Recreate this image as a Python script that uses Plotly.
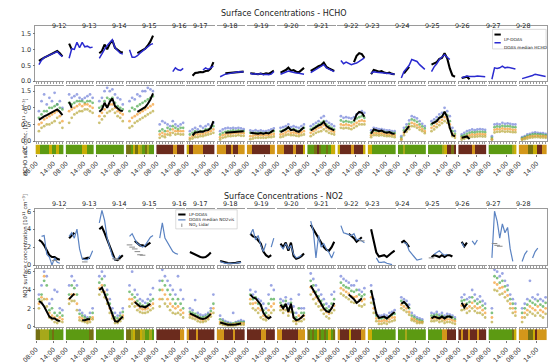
import plotly.graph_objects as go

N = None
W, H = 550, 364

DAYS = ["9-12", "9-13", "9-14", "9-15", "9-16", "9-17", "9-18", "9-19", "9-20",
        "9-21", "9-22", "9-23", "9-24", "9-25", "9-26", "9-27", "9-28"]
HOURS = [9.0, 9.9, 10.8, 11.7, 12.6, 13.5, 14.4, 15.3, 16.2, 17.1]
TICK_HOURS = [8, 14]
TICK_TEXT = ["08:00", "14:00"]

# ---------------- HCHO ----------------
HCHO_LP = [
    [0.64, 0.70, 0.74, 0.78, 0.82, 0.85, 0.90, 0.95, 0.88, 0.78],
    [1.18, 1.00, N, N, N, N, N, N, N, N],
    [0.88, 0.95, 1.15, 1.00, 1.18, 1.28, 1.05, 0.98, 0.92, 0.90],
    [N, N, N, 0.88, 0.92, 0.98, 1.02, 1.12, 1.25, 1.43],
    [N, N, N, N, N, N, N, N, N, N],
    [N, 0.17, 0.26, 0.27, 0.29, 0.28, 0.32, 0.33, 0.40, 0.60],
    [N, N, 0.25, 0.26, 0.27, 0.28, 0.28, 0.29, 0.30, 0.30],
    [0.25, 0.24, 0.25, 0.22, 0.24, 0.22, 0.25, 0.23, 0.28, 0.33],
    [0.27, 0.30, 0.35, 0.42, 0.33, 0.35, 0.30, 0.28, 0.35, 0.42],
    [0.32, 0.38, 0.42, 0.47, 0.50, 0.58, 0.45, 0.40, 0.36, 0.32],
    [N, N, N, N, N, 0.60, 0.80, 0.88, 0.85, 0.73],
    [0.22, 0.35, 0.33, 0.30, 0.32, 0.27, 0.25, 0.27, 0.23, 0.22],
    [N, 0.25, 0.35, 0.45, N, N, N, N, N, N],
    [0.52, 0.55, 0.60, 0.70, 0.73, 0.88, 0.72, 0.40, 0.18, 0.14],
    [0.10, 0.12, 0.14, 0.06, N, N, N, N, N, N],
    [N, N, N, N, N, N, N, N, N, N],
    [N, N, N, N, N, N, N, N, N, N],
]
HCHO_MED = [
    [0.52, 0.66, 0.74, 0.78, 0.80, 0.84, 0.90, 0.93, 0.84, 0.77],
    [0.72, 1.02, 1.00, 1.22, 1.05, 1.22, 1.08, 1.10, 1.05, 1.07],
    [0.72, 0.88, 1.00, 1.12, 1.20, 1.30, 1.05, 0.95, 0.88, 0.85],
    [0.99, 0.75, 0.75, 0.80, 0.88, 0.95, 1.00, 1.08, 1.15, 1.18],
    [N, N, N, N, N, 0.30, 0.42, 0.36, 0.34, 0.40],
    [N, N, N, N, N, 0.35, 0.42, 0.37, 0.43, 0.47],
    [0.14, 0.18, 0.22, 0.23, 0.25, 0.27, 0.28, 0.30, 0.29, 0.30],
    [0.25, 0.22, 0.23, 0.22, 0.24, 0.20, 0.22, 0.20, 0.22, 0.30],
    [0.22, 0.26, 0.30, 0.32, 0.30, 0.27, 0.26, 0.25, 0.23, 0.22],
    [0.27, 0.32, 0.37, 0.43, 0.47, 0.52, 0.42, 0.37, 0.34, 0.30],
    [0.65, 0.55, 0.60, 0.55, 0.52, 0.55, 0.57, 0.62, 0.68, 0.73],
    [0.25, 0.30, 0.28, 0.28, 0.27, 0.26, 0.25, 0.24, 0.24, 0.22],
    [0.10, 0.30, 0.40, 0.50, 0.68, 0.66, 0.62, 0.52, 0.45, 0.37],
    [0.30, 0.45, 0.55, 0.68, 0.76, 0.83, 0.75, 0.68, N, N],
    [0.11, 0.13, 0.16, 0.15, 0.14, 0.15, 0.16, 0.16, 0.15, 0.14],
    [0.06, 0.42, 0.40, 0.42, 0.47, 0.42, 0.44, 0.42, 0.40, 0.38],
    [0.08, 0.10, 0.14, 0.16, 0.18, 0.22, 0.20, 0.18, 0.16, 0.15],
]
HCHO_PTS_A = [
    [0.90, 1.20, 1.40, 1.10, 1.30, 1.20, 1.45, 1.10, 1.20, 1.00],
    [1.40, 1.30, 1.35, 1.40, 1.30, 1.25, 1.30, 1.35, 1.40, 1.30],
    [1.20, 1.30, 1.50, 1.60, 1.50, 1.55, 1.40, 1.30, 1.25, 1.10],
    [1.20, 1.30, 1.25, 1.40, 1.35, 1.50, 1.50, 1.60, 1.55, 1.50],
    [0.50, 0.60, 0.55, 0.50, 0.45, 0.60, 0.50, 0.45, 0.50, 0.55],
    [0.30, 0.35, 0.40, 0.35, 0.45, 0.40, 0.45, 0.50, 0.45, 0.55],
    [0.30, 0.35, 0.38, 0.40, 0.38, 0.40, 0.38, 0.40, 0.38, 0.36],
    [0.32, 0.30, 0.33, 0.30, 0.32, 0.30, 0.30, 0.32, 0.35, 0.38],
    [0.40, 0.42, 0.45, 0.50, 0.42, 0.45, 0.42, 0.40, 0.45, 0.50],
    [0.45, 0.50, 0.55, 0.60, 0.70, 0.75, 0.60, 0.55, 0.50, 0.45],
    [0.75, 0.70, 0.72, 0.70, 0.68, 0.72, 0.80, 0.85, 0.90, 0.85],
    [0.32, 0.40, 0.38, 0.36, 0.36, 0.34, 0.32, 0.32, 0.30, 0.30],
    [0.15, 0.40, 0.50, 0.62, 0.75, 0.72, 0.68, 0.60, 0.52, 0.45],
    [0.60, 0.65, 0.72, 0.80, 0.85, 1.00, 0.90, 0.75, 0.40, 0.30],
    [0.20, 0.25, 0.30, 0.32, 0.35, 0.33, 0.35, 0.36, 0.35, 0.34],
    [0.15, 0.50, 0.52, 0.50, 0.55, 0.52, 0.53, 0.52, 0.50, 0.50],
    [0.12, 0.15, 0.20, 0.22, 0.25, 0.26, 0.25, 0.24, 0.24, 0.22],
]
HCHO_PTS_B = [
    [0.70, 0.80, 0.90, 0.90, 1.00, 1.00, 1.05, 1.10, 1.00, 0.95],
    [1.15, 1.10, 1.15, 1.20, 1.20, 1.20, 1.15, 1.20, 1.20, 1.15],
    [1.00, 1.05, 1.20, 1.30, 1.25, 1.30, 1.15, 1.05, 1.00, 0.95],
    [0.90, 1.00, 0.95, 1.05, 1.10, 1.15, 1.20, 1.25, 1.30, 1.35],
    [0.30, 0.35, 0.30, 0.40, 0.35, 0.45, 0.40, 0.35, 0.40, 0.40],
    [0.20, 0.25, 0.30, 0.28, 0.30, 0.30, 0.35, 0.35, 0.38, 0.45],
    [0.20, 0.25, 0.28, 0.30, 0.30, 0.32, 0.30, 0.32, 0.30, 0.30],
    [0.25, 0.24, 0.25, 0.24, 0.25, 0.23, 0.24, 0.25, 0.28, 0.30],
    [0.30, 0.32, 0.36, 0.40, 0.34, 0.36, 0.32, 0.30, 0.35, 0.40],
    [0.35, 0.40, 0.45, 0.50, 0.55, 0.60, 0.50, 0.45, 0.40, 0.35],
    [0.62, 0.58, 0.60, 0.58, 0.56, 0.60, 0.68, 0.72, 0.75, 0.70],
    [0.25, 0.32, 0.30, 0.30, 0.30, 0.28, 0.26, 0.26, 0.25, 0.24],
    [0.10, 0.32, 0.42, 0.52, 0.65, 0.62, 0.58, 0.50, 0.44, 0.38],
    [0.50, 0.55, 0.62, 0.70, 0.75, 0.85, 0.78, 0.60, 0.30, 0.22],
    [0.15, 0.18, 0.22, 0.25, 0.27, 0.26, 0.28, 0.28, 0.28, 0.27],
    [0.10, 0.42, 0.44, 0.43, 0.46, 0.44, 0.45, 0.44, 0.42, 0.42],
    [0.09, 0.12, 0.16, 0.18, 0.20, 0.21, 0.20, 0.20, 0.19, 0.18],
]
HCHO_PTS_C = [
    [0.50, 0.55, 0.65, 0.70, 0.75, 0.80, 0.85, 0.90, 0.75, 0.60],
    [0.90, 0.95, 1.00, 1.05, 1.10, 1.05, 1.10, 1.10, 1.05, 1.00],
    [0.75, 0.85, 0.95, 1.05, 1.10, 1.10, 1.00, 0.90, 0.85, 0.80],
    [0.60, 0.70, 0.75, 0.80, 0.85, 0.90, 0.95, 1.00, 1.05, 1.10],
    [0.20, 0.25, 0.20, 0.30, 0.25, 0.35, 0.30, 0.30, 0.30, 0.30],
    [0.10, 0.15, 0.20, 0.20, 0.22, 0.22, 0.25, 0.28, 0.30, 0.35],
    [0.12, 0.18, 0.20, 0.22, 0.22, 0.24, 0.24, 0.25, 0.24, 0.24],
    [0.15, 0.16, 0.18, 0.17, 0.18, 0.17, 0.18, 0.18, 0.20, 0.22],
    [0.20, 0.22, 0.26, 0.30, 0.25, 0.26, 0.24, 0.22, 0.26, 0.30],
    [0.25, 0.30, 0.35, 0.40, 0.42, 0.48, 0.40, 0.35, 0.30, 0.28],
    [0.50, 0.48, 0.50, 0.48, 0.46, 0.50, 0.55, 0.60, 0.62, 0.60],
    [0.18, 0.25, 0.24, 0.23, 0.24, 0.22, 0.20, 0.20, 0.20, 0.18],
    [0.06, 0.25, 0.35, 0.44, 0.55, 0.52, 0.48, 0.42, 0.36, 0.30],
    [0.40, 0.45, 0.52, 0.58, 0.64, 0.72, 0.66, 0.50, 0.22, 0.16],
    [0.10, 0.12, 0.15, 0.18, 0.20, 0.19, 0.21, 0.22, 0.21, 0.20],
    [0.06, 0.34, 0.36, 0.35, 0.38, 0.36, 0.37, 0.36, 0.34, 0.34],
    [0.06, 0.09, 0.12, 0.14, 0.15, 0.16, 0.16, 0.15, 0.15, 0.14],
]
HCHO_PTS_D = [
    [0.30, 0.40, 0.45, 0.50, 0.50, 0.55, 0.60, 0.70, 0.55, 0.40],
    [0.55, 0.70, 0.80, 0.85, 0.90, 0.90, 0.95, 0.95, 0.90, 0.85],
    [0.55, 0.65, 0.75, 0.85, 0.90, 0.95, 0.85, 0.75, 0.70, 0.60],
    [0.40, 0.45, 0.55, 0.60, 0.65, 0.70, 0.75, 0.80, 0.85, 0.90],
    [0.10, 0.15, 0.12, 0.20, 0.18, 0.25, 0.20, 0.22, 0.20, 0.20],
    [0.05, 0.08, 0.12, 0.12, 0.15, 0.15, 0.18, 0.20, 0.22, 0.25],
    [0.05, 0.10, 0.12, 0.15, 0.15, 0.16, 0.16, 0.18, 0.16, 0.16],
    [0.06, 0.08, 0.10, 0.10, 0.10, 0.10, 0.10, 0.12, 0.12, 0.14],
    [0.12, 0.14, 0.18, 0.20, 0.18, 0.18, 0.16, 0.15, 0.18, 0.20],
    [0.15, 0.20, 0.25, 0.28, 0.30, 0.35, 0.30, 0.25, 0.22, 0.20],
    [0.40, 0.38, 0.40, 0.38, 0.36, 0.40, 0.45, 0.50, 0.50, 0.50],
    [0.12, 0.18, 0.18, 0.17, 0.18, 0.16, 0.15, 0.15, 0.14, 0.12],
    [0.04, 0.18, 0.28, 0.36, 0.45, 0.44, 0.40, 0.34, 0.30, 0.24],
    [0.30, 0.35, 0.42, 0.48, 0.54, 0.60, 0.55, 0.40, 0.15, 0.10],
    [0.05, 0.07, 0.10, 0.12, 0.13, 0.13, 0.14, 0.15, 0.14, 0.14],
    [0.04, 0.26, 0.28, 0.28, 0.30, 0.28, 0.29, 0.28, 0.27, 0.27],
    [0.04, 0.06, 0.08, 0.10, 0.11, 0.12, 0.12, 0.11, 0.11, 0.10],
]
# cloud-cover class per bin: 0 green, 1 light olive, 2 yellow, 3 dark olive, 4 brown, 5 orange
HCHO_CC = [
    [2, 2, 0, 0, 0, 0, 2, 0, 0, 2, 0, 0],
    [0, 0, 0, 0, 0, 0, 0, 2, 2, 0, 0, 0],
    [0, 0, 0, 0, 0, 0, 0, 0, 0, 0, 0, 0],
    [3, 3, 0, 2, 3, 2, 1, 0, 3, 1, 0, 0],
    [4, 4, 4, 4, 4, 4, 4, 5, 5, 4, 4, 4],
    [2, 4, 4, 5, 5, 5, 5, 4, 4, 4, 4, 4],
    [5, 5, 5, 5, 4, 4, 5, 4, 4, 5, 5, 5],
    [5, 5, 4, 4, 4, 4, 4, 4, 4, 4, 5, 5],
    [5, 5, 5, 4, 4, 4, 4, 5, 4, 4, 4, 2],
    [0, 0, 0, 3, 4, 3, 0, 0, 3, 0, 2, 2],
    [2, 4, 4, 4, 4, 4, 5, 4, 4, 4, 4, 2],
    [2, 2, 0, 0, 0, 0, 0, 0, 0, 0, 0, 0],
    [0, 0, 1, 0, 0, 0, 0, 0, 0, 0, 0, 0],
    [0, 0, 0, 0, 0, 0, 1, 2, 4, 4, 3, 4],
    [4, 4, 4, 4, 4, 4, 5, 4, 4, 4, 4, 4],
    [0, 0, 0, 0, 0, 0, 0, 0, 0, 0, 1, 2],
    [5, 5, 5, 5, 3, 3, 2, 2, 4, 4, 5, 5],
]

# ---------------- NO2 ----------------
NO2_LP = [
    [2.8, 2.6, 2.2, 1.6, 1.1, 0.9, 0.9, 0.7, 0.6, N],
    [3.0, 3.3, 3.6, N, N, 0.7, 0.7, 0.8, 0.8, N],
    [4.0, 4.25, 3.6, 2.8, 2.0, 1.3, 0.6, 0.55, 0.8, 1.1],
    [N, N, 2.7, 2.4, 2.2, 2.2, 2.1, 2.3, 2.5, N],
    [N, N, N, N, N, N, N, N, N, N],
    [1.45, 1.3, 1.2, 1.0, 0.9, 0.85, 0.9, 1.1, 1.4, N],
    [0.45, 0.35, 0.25, 0.22, 0.2, 0.2, 0.25, 0.3, 0.35, N],
    [3.5, 3.2, 3.1, 2.7, 2.4, 1.5, 1.1, 0.9, 1.1, N],
    [2.4, 2.0, 2.5, 1.6, 2.5, 1.0, 0.7, 0.8, 1.0, 1.3],
    [4.5, 4.0, 3.4, 2.9, 2.4, 2.0, 1.7, 1.6, 2.0, 2.6],
    [N, N, N, 3.5, 3.3, 3.0, 2.6, 2.8, 3.1, N],
    [4.0, 2.5, 1.4, 0.95, 1.0, 1.1, 0.9, 1.1, 1.4, 1.6],
    [2.5, 2.7, 2.4, 2.0, N, N, N, N, N, N],
    [0.9, 1.1, 1.0, 0.9, 1.1, 0.9, 1.1, 1.1, 0.95, N],
    [2.6, 2.1, 2.5, N, N, N, N, N, N, N],
    [N, N, N, N, N, N, N, N, N, N],
    [N, N, N, N, N, N, N, N, N, N],
]
NO2_MED = [
    [N, 3.2, 3.3, 1.2, 0.9, 0.0, 0.8, 0.3, 0.2, N],
    [3.2, 3.6, 3.0, 4.0, 1.8, 0.7, 0.6, 0.6, 0.9, 1.6],
    [4.7, 6.1, 5.0, 3.0, 2.0, 1.0, 0.6, 0.7, 1.1, N],
    [3.2, 3.5, 2.9, 2.4, 2.2, 2.0, 2.2, 2.6, 3.1, 3.3],
    [3.0, 4.7, 3.0, 2.5, 2.1, 1.5, 1.3, 1.2, N, N],
    [N, N, N, N, N, N, N, N, N, N],
    [0.4, 0.3, 0.2, 0.2, 0.18, 0.2, 0.22, 0.28, 0.3, N],
    [3.4, 4.0, 2.8, 3.3, 2.2, 1.5, 2.4, N, 2.0, 3.0],
    [2.2, 1.8, 2.4, 1.8, 2.2, 1.2, 0.8, 0.9, 1.1, N],
    [4.9, 3.8, 0.8, 3.3, 2.0, 2.4, 1.8, 1.4, 0.8, 1.5],
    [4.4, 3.6, 3.5, 3.4, 3.3, 3.5, 2.8, 2.9, 2.7, 2.5],
    [N, N, 0.8, 0.3, 0.3, 0.35, 0.2, 0.15, 0.05, N],
    [N, 2.5, 2.4, 1.6, 1.3, 0.9, 0.55, 0.6, 0.7, N],
    [N, 1.2, 1.4, 1.6, 1.3, 1.1, 1.2, N, N, N],
    [2.5, 2.0, N, N, 2.7, 2.3, 2.8, N, N, N],
    [0.8, 6.0, 4.9, 3.0, 4.6, 3.6, 4.2, 1.8, 0.4, N],
    [0.4, 1.2, 1.6, N, 0.8, 1.5, 1.9, N, N, N],
]
NO2_LIDAR = [
    [N, N, N, N, N, N, 0.5, N, N, N],
    [N, N, N, N, N, N, 0.35, N, N, N],
    [N, N, N, N, N, N, 0.7, 0.6, N, N],
    [2.25, 2.0, 1.8, 1.5, 1.15, 1.1, N, N, N, N],
    [N, N, N, N, N, N, N, N, N, N],
    [N, N, N, N, N, N, N, N, N, N],
    [N, N, N, N, N, N, N, N, N, N],
    [N, N, N, N, N, N, N, N, N, N],
    [N, N, N, N, N, N, N, N, N, N],
    [N, N, N, N, N, N, N, N, N, N],
    [N, N, N, N, N, N, N, N, 2.7, N],
    [N, N, N, N, N, N, N, N, N, N],
    [N, N, N, N, N, N, N, N, N, N],
    [0.8, N, N, N, N, N, N, N, N, N],
    [N, N, N, N, N, N, N, N, N, N],
    [N, 2.4, 2.2, 2.1, N, N, N, N, N, N],
    [N, N, N, N, N, N, N, N, N, N],
]
NO2_PTS_A = [
    [3.5, 4.5, 6.0, 5.5, 2.5, 3.0, 4.0, 3.8, 2.0, 1.8],
    [4.5, 5.5, 5.0, 4.5, 1.8, 1.5, 1.2, 1.0, 1.5, 2.0],
    [5.5, 6.0, 5.5, 4.0, 3.0, 2.0, 1.5, 1.2, 1.5, 2.0],
    [4.5, 6.0, 4.0, 3.5, 3.0, 2.8, 2.6, 3.0, 3.5, 4.2],
    [5.0, 6.2, 5.5, 5.0, 4.5, 4.0, 3.5, 5.5, 4.0, 3.0],
    [2.0, 1.8, 2.9, 1.5, 1.3, 1.2, 1.3, 1.5, 2.0, 3.5],
    [1.2, 0.8, 0.6, 0.5, 0.4, 1.5, 0.5, 0.6, 0.7, 0.6],
    [4.0, 3.5, 3.8, 3.0, 2.8, 2.5, 2.0, 3.5, 4.5, 4.0],
    [3.0, 2.8, 3.2, 2.5, 3.0, 2.2, 1.5, 3.5, 2.0, 2.0],
    [5.8, 5.2, 4.5, 4.0, 3.5, 3.0, 2.5, 2.2, 3.5, 3.8],
    [5.5, 5.2, 5.0, 4.8, 4.5, 4.5, 5.0, 4.0, 3.8, 4.2],
    [4.5, 3.0, 1.5, 1.2, 1.2, 1.3, 1.2, 1.5, 1.6, 1.8],
    [3.2, 3.0, 2.8, 2.4, 1.5, 1.2, 1.0, 0.9, 0.8, N],
    [1.5, 1.4, 1.6, 1.3, 1.5, 1.2, 1.4, 1.3, 1.2, 1.0],
    [3.2, 3.5, 3.0, 3.2, 4.0, 3.5, 3.0, 3.3, 2.8, 2.5],
    [2.0, 6.2, 6.0, 5.5, 5.8, 5.0, 4.5, 3.5, 3.0, 2.5],
    [2.0, 2.5, 3.0, 5.0, 3.2, 3.0, 3.5, 3.0, 2.8, 3.2],
]
NO2_PTS_B = [
    [3.0, 3.5, 5.0, 4.5, 1.8, 2.0, 1.5, 1.2, 1.5, 1.2],
    [3.5, 4.5, 4.2, 3.5, 1.4, 1.2, 1.0, 0.8, 1.0, 1.5],
    [4.8, 5.2, 4.5, 3.5, 2.5, 1.5, 1.0, 0.9, 1.2, 1.6],
    [3.8, 3.5, 3.2, 2.8, 2.5, 2.3, 2.2, 2.5, 2.8, 3.0],
    [4.0, 5.0, 4.5, 4.0, 3.5, 3.0, 2.5, 3.0, 2.5, 2.0],
    [1.6, 1.5, 1.4, 1.2, 1.0, 1.0, 1.1, 1.3, 1.7, 2.5],
    [0.8, 0.6, 0.4, 0.35, 0.3, 0.35, 0.4, 0.45, 0.5, 0.5],
    [3.5, 3.0, 3.2, 2.5, 2.3, 1.8, 1.5, 2.5, 3.0, 3.0],
    [2.6, 2.3, 2.8, 2.0, 2.6, 1.5, 1.0, 2.0, 1.5, 1.5],
    [5.0, 4.5, 3.8, 3.3, 2.8, 2.4, 2.0, 1.8, 2.5, 3.0],
    [4.8, 4.5, 4.3, 4.2, 3.9, 3.8, 4.0, 3.5, 3.3, 3.5],
    [3.8, 2.5, 1.2, 0.9, 0.9, 1.0, 0.9, 1.1, 1.3, 1.4],
    [2.8, 2.6, 2.4, 2.0, 1.2, 1.0, 0.8, 0.7, 0.6, N],
    [1.2, 1.2, 1.3, 1.1, 1.2, 1.0, 1.1, 1.1, 1.0, 0.8],
    [2.8, 2.9, 2.5, 2.7, 3.2, 2.8, 2.5, 2.7, 2.3, 2.0],
    [1.5, 5.5, 5.3, 4.8, 5.0, 4.4, 4.0, 3.0, 2.5, 2.0],
    [1.5, 2.0, 2.4, 2.8, 2.6, 2.4, 2.8, 2.4, 2.2, 2.6],
]
NO2_PTS_C = [
    [2.5, 3.2, 5.5, 3.0, 1.5, 1.2, 1.0, 0.8, 1.0, 0.8],
    [3.0, 3.5, 3.5, 2.5, 1.0, 0.9, 0.7, 0.6, 0.8, 1.0],
    [4.2, 4.5, 3.8, 3.0, 2.0, 1.2, 0.7, 0.6, 0.9, 1.2],
    [3.0, 3.0, 2.7, 2.3, 2.0, 1.9, 1.9, 2.0, 2.3, 2.5],
    [3.0, 4.0, 3.5, 3.0, 2.5, 2.2, 2.0, 2.2, 1.8, 1.5],
    [1.3, 1.2, 1.1, 0.9, 0.8, 0.7, 0.9, 1.0, 1.4, 2.0],
    [0.5, 0.4, 0.3, 0.25, 0.2, 0.25, 0.3, 0.3, 0.35, 0.35],
    [3.0, 2.5, 2.6, 2.0, 1.8, 1.2, 1.0, 1.8, 2.2, 2.5],
    [2.2, 1.9, 2.3, 1.6, 2.1, 1.0, 0.6, 1.2, 1.0, 1.2],
    [4.3, 3.8, 3.2, 2.8, 2.3, 1.9, 1.6, 1.4, 2.0, 2.3],
    [4.2, 4.0, 3.8, 3.6, 3.3, 3.2, 3.3, 2.9, 2.8, 3.0],
    [3.2, 2.0, 0.9, 0.6, 0.6, 0.7, 0.6, 0.8, 1.0, 1.0],
    [2.4, 2.2, 2.0, 1.6, 0.9, 0.8, 0.6, 0.5, 0.5, N],
    [0.9, 0.9, 1.0, 0.8, 0.9, 0.7, 0.8, 0.8, 0.7, 0.6],
    [2.3, 2.4, 2.0, 2.2, 2.6, 2.2, 2.0, 2.1, 1.8, 1.5],
    [1.0, 4.8, 4.6, 4.2, 4.3, 3.8, 3.4, 2.5, 2.0, 1.6],
    [1.0, 1.5, 1.8, 2.2, 2.0, 1.8, 2.2, 1.8, 1.6, 2.0],
]
NO2_PTS_D = [
    [2.0, 2.8, 3.0, 2.2, 1.0, 0.8, 0.5, 0.4, 0.6, 0.5],
    [2.5, 2.8, 2.8, 1.8, 0.7, 0.6, 0.5, 0.4, 0.5, 0.8],
    [3.5, 3.8, 3.2, 2.5, 1.5, 0.9, 0.4, 0.4, 0.6, 0.9],
    [2.2, 2.5, 2.2, 1.8, 1.6, 1.5, 1.5, 1.6, 1.8, 2.0],
    [2.2, 3.0, 2.5, 2.2, 1.8, 1.5, 1.4, 1.5, 1.3, 1.0],
    [1.0, 0.9, 0.8, 0.6, 0.5, 0.5, 0.6, 0.8, 1.1, 1.5],
    [0.3, 0.2, 0.15, 0.1, 0.1, 0.1, 0.15, 0.2, 0.2, 0.2],
    [2.5, 2.0, 1.8, 1.5, 1.0, 0.8, 0.7, 1.2, 1.5, 1.8],
    [1.8, 1.5, 1.8, 1.2, 1.6, 0.6, 0.3, 0.6, 0.6, 0.8],
    [3.5, 3.0, 2.5, 2.2, 1.8, 1.4, 1.1, 0.9, 1.5, 1.8],
    [3.6, 3.4, 3.2, 3.0, 2.7, 2.6, 2.6, 2.3, 2.2, 2.4],
    [2.6, 1.5, 0.6, 0.3, 0.3, 0.4, 0.3, 0.5, 0.6, 0.7],
    [2.0, 1.8, 1.6, 1.3, 0.7, 0.6, 0.4, 0.4, 0.4, N],
    [0.6, 0.6, 0.7, 0.5, 0.6, 0.4, 0.5, 0.5, 0.4, 0.3],
    [1.8, 1.9, 1.5, 1.7, 2.0, 1.7, 1.5, 1.5, 1.3, 1.0],
    [0.5, 4.0, 3.9, 3.5, 3.6, 3.2, 2.8, 2.0, 1.5, 1.2],
    [0.5, 1.0, 1.3, 1.6, 1.4, 1.2, 1.5, 1.2, 1.0, 1.4],
]
NO2_CC = [
    [3, 3, 1, 1, 1, 1, 0, 3, 0, 0, 0, 0],
    [0, 0, 0, 0, 0, 0, 0, 0, 0, 0, 3, 3],
    [0, 0, 0, 0, 0, 0, 0, 0, 0, 0, 0, 0],
    [3, 3, 1, 2, 3, 3, 2, 1, 0, 0, 1, 0],
    [4, 4, 4, 4, 4, 4, 4, 4, 4, 4, 5, 5],
    [5, 4, 4, 4, 5, 4, 4, 4, 4, 4, 4, 4],
    [5, 5, 5, 4, 4, 4, 4, 5, 4, 4, 4, 4],
    [4, 4, 4, 4, 4, 4, 5, 5, 4, 4, 4, 4],
    [5, 5, 4, 4, 4, 4, 4, 4, 4, 5, 5, 5],
    [3, 0, 3, 0, 2, 3, 0, 3, 0, 2, 0, 3],
    [5, 4, 4, 4, 4, 2, 4, 4, 4, 4, 5, 5],
    [2, 2, 0, 0, 0, 0, 0, 0, 0, 0, 0, 0],
    [0, 0, 0, 1, 0, 0, 0, 0, 0, 0, 0, 0],
    [0, 0, 0, 0, 0, 0, 5, 5, 4, 4, 4, 4],
    [4, 5, 4, 4, 5, 4, 4, 4, 5, 4, 4, 4],
    [0, 0, 0, 0, 0, 0, 0, 0, 0, 0, 3, 2],
    [5, 5, 5, 5, 3, 3, 2, 4, 5, 5, 5, 5],
]

CC_COLORS = ["#5c9a12", "#a6a81a", "#c9ad06", "#747012", "#6b2b1d", "#d3971a"]
PT_COLORS = ["#7080d8", "#4aa84a", "#f39b2d", "#b8a83a"]
FONT = "DejaVu Sans"

# ---------------- layout geometry ----------------
X0, X1, GAP, NC = 22.0, 547.0, 1.8, 17
CW = (X1 - X0 - GAP * (NC - 1)) / NC
XR = [7.8, 17.6]
ROWS = [
    dict(kind="line", top=26.0, bot=82.0, yr=[0, 1.72], tv=[0, 0.5, 1, 1.5], tt=["0.0", "0.5", "1.0", "1.5"]),
    dict(kind="pts", top=86.7, bot=143.3, yr=[0, 1.66], tv=[0, 0.5, 1, 1.5], tt=["0.0", "0.5", "1.0", "1.5"]),
    dict(kind="cc", top=146.7, bot=156.7),
    dict(kind="line", top=212.7, bot=270.0, yr=[0, 6.25], tv=[0, 2, 4, 6], tt=["0", "2", "4", "6"]),
    dict(kind="pts", top=274.0, bot=333.0, yr=[0, 6.29], tv=[0, 2, 4, 6], tt=["0", "2", "4", "6"]),
    dict(kind="cc", top=335.5, bot=347.0),
]


def px(x):
    return x / W


def py(y):
    return 1 - y / H


def col_left(c):
    return X0 + c * (CW + GAP)


fig = go.Figure()
lay = {}
nbins = len(HCHO_CC[0])
step = (XR[1] - XR[0]) / nbins
cc_x = [XR[0] + (i + 0.5) * step for i in range(nbins)]
cscale = []
for i, col in enumerate(CC_COLORS):
    cscale.append([i / len(CC_COLORS), col])
    cscale.append([(i + 1) / len(CC_COLORS), col])

for r, row in enumerate(ROWS):
    for c in range(NC):
        k = r * NC + c + 1
        xs = "" if k == 1 else str(k)
        xa, ya = "x" + xs, "y" + xs
        left = col_left(c)
        xd = [px(left), px(left + CW)]
        yd = [py(row["bot"]), py(row["top"])]
        if row["kind"] == "cc":
            lay["xaxis" + xs] = dict(domain=xd, anchor=ya, range=XR, showgrid=False, zeroline=False,
                                     showline=False, ticks="outside", ticklen=2, tickcolor="#777",
                                     tickvals=TICK_HOURS, ticktext=TICK_TEXT, tickangle=-45,
                                     tickfont=dict(size=6.3, color="#333", family=FONT))
            lay["yaxis" + xs] = dict(domain=yd, anchor=xa, range=[0, 1], visible=False, fixedrange=True)
        else:
            lay["xaxis" + xs] = dict(domain=xd, anchor=ya, range=XR, showgrid=False, zeroline=False,
                                     showline=True, mirror=True, linecolor="#9a9a9a", linewidth=0.8,
                                     ticks="outside", ticklen=2, tickcolor="#9a9a9a",
                                     tickvals=list(range(8, 18)), showticklabels=False)
            yd_ax = dict(domain=yd, anchor=xa, range=row["yr"], showgrid=False, zeroline=False,
                         tickvals=row["tv"], ticktext=row["tt"],
                         tickfont=dict(size=6.5, color="#333", family=FONT))
            if c == 0:
                yd_ax.update(showline=True, linecolor="#9a9a9a", linewidth=0.8, ticks="outside",
                             ticklen=2, tickcolor="#777", showticklabels=True)
            elif c == NC - 1:
                yd_ax.update(showline=True, linecolor="#9a9a9a", linewidth=0.8, side="right",
                             ticks="", showticklabels=False)
            else:
                yd_ax.update(showline=False, ticks="", showticklabels=False)
            lay["yaxis" + xs] = yd_ax

        is_hcho = r < 3
        if row["kind"] == "cc":
            codes = HCHO_CC[c] if is_hcho else NO2_CC[c]
            fig.add_trace(go.Heatmap(z=[codes], x=cc_x, y=[0.5], xaxis=xa, yaxis=ya,
                                     colorscale=cscale, zmin=-0.5, zmax=len(CC_COLORS) - 0.5,
                                     showscale=False, hoverinfo="skip"))
        elif row["kind"] == "pts":
            groups = [HCHO_PTS_A, HCHO_PTS_B, HCHO_PTS_C, HCHO_PTS_D] if is_hcho else \
                     [NO2_PTS_A, NO2_PTS_B, NO2_PTS_C, NO2_PTS_D]
            for g, arr in enumerate(groups):
                fig.add_trace(go.Scatter(x=HOURS, y=arr[c], mode="markers", xaxis=xa, yaxis=ya,
                                         marker=dict(size=2.8, color=PT_COLORS[g], opacity=0.7),
                                         showlegend=False, hoverinfo="skip"))
            lp = HCHO_LP[c] if is_hcho else NO2_LP[c]
            fig.add_trace(go.Scatter(x=HOURS, y=lp, mode="lines", xaxis=xa, yaxis=ya,
                                     line=dict(color="black", width=2), showlegend=False))
        else:
            lp = HCHO_LP[c] if is_hcho else NO2_LP[c]
            fig.add_trace(go.Scatter(x=HOURS, y=lp, mode="lines", xaxis=xa, yaxis=ya,
                                     line=dict(color="black", width=2.1), showlegend=False))
            if is_hcho:
                fig.add_trace(go.Scatter(x=HOURS, y=HCHO_MED[c], mode="lines", xaxis=xa, yaxis=ya,
                                         line=dict(color="#2b2bd0", width=1.5), showlegend=False))
            else:
                fig.add_trace(go.Scatter(x=HOURS, y=NO2_MED[c], mode="lines", xaxis=xa, yaxis=ya,
                                         line=dict(color="#5b83c2", width=1.2), showlegend=False))
                fig.add_trace(go.Scatter(x=HOURS, y=NO2_LIDAR[c], mode="markers", xaxis=xa, yaxis=ya,
                                         marker=dict(symbol="line-ew", size=4,
                                                     line=dict(color="#8a8a8a", width=1)),
                                         showlegend=False))

ann = []
shapes = []


def text(x, y, s, size, **kw):
    d = dict(x=px(x), y=py(y), xref="paper", yref="paper", text=s, showarrow=False,
             font=dict(size=size, color=kw.pop("color", "#222"), family=FONT))
    d.update(kw)
    ann.append(d)


text(277, 6.0, "Surface Concentrations - HCHO", 8.0)
text(277, 199.5, "Surface Concentrations - NO2", 8.0)
for c, d in enumerate(DAYS):
    cx = col_left(c) + CW / 2
    text(cx, 19.3, d, 6.4)
    text(cx, 207.2, d, 6.4)
text(6.5, 98, "HCHO surf. conc. [10<sup>11</sup> cm<sup>−3</sup>]", 5.3, textangle=-90)
text(6.5, 151.7, "CC", 5.8, textangle=-90)
text(6.5, 305, "NO2 surface concentration [10<sup>11</sup> cm<sup>−3</sup>]", 5.3, textangle=-90)


def rect(x0, y0, x1, y1):
    shapes.append(dict(type="rect", xref="paper", yref="paper", x0=px(x0), x1=px(x1),
                       y0=py(y1), y1=py(y0), line=dict(color="#cccccc", width=0.7),
                       fillcolor="rgba(255,255,255,0.85)"))


def seg(x0, y0, x1, y1, color, width):
    shapes.append(dict(type="line", xref="paper", yref="paper", x0=px(x0), x1=px(x1),
                       y0=py(y0), y1=py(y1), line=dict(color=color, width=width)))


# HCHO legend
rect(491, 29, 546, 49)
seg(493, 34.3, 499.5, 34.3, "black", 2)
seg(493, 42.7, 499.5, 42.7, "#2b2bd0", 1.5)
text(501, 34.3, "LP-DOAS", 4.2, xanchor="left")
text(501, 42.7, "DOAS median HCHO", 4.2, xanchor="left")
# NO2 legend
rect(166, 213.5, 229, 233)
seg(168.5, 218.3, 176, 218.3, "black", 2)
seg(168.5, 223.8, 176, 223.8, "#5b83c2", 1.2)
seg(172.2, 227.6, 172.2, 231.0, "#8a8a8a", 1)
text(178, 218.3, "LP-DOAS", 4.2, xanchor="left")
text(178, 223.8, "DOAS median NO2vis", 4.2, xanchor="left")
text(178, 229.3, "NO<sub>2</sub> Lidar", 4.2, xanchor="left")

fig.update_layout(width=W, height=H, margin=dict(l=0, r=0, t=0, b=0),
                  paper_bgcolor="white", plot_bgcolor="white", showlegend=False,
                  annotations=ann, shapes=shapes, font=dict(family=FONT), **lay)
fig.write_html("out.html", config={"displayModeBar": False},
               post_script="document.body.style.margin='0';document.body.style.padding='0';")
